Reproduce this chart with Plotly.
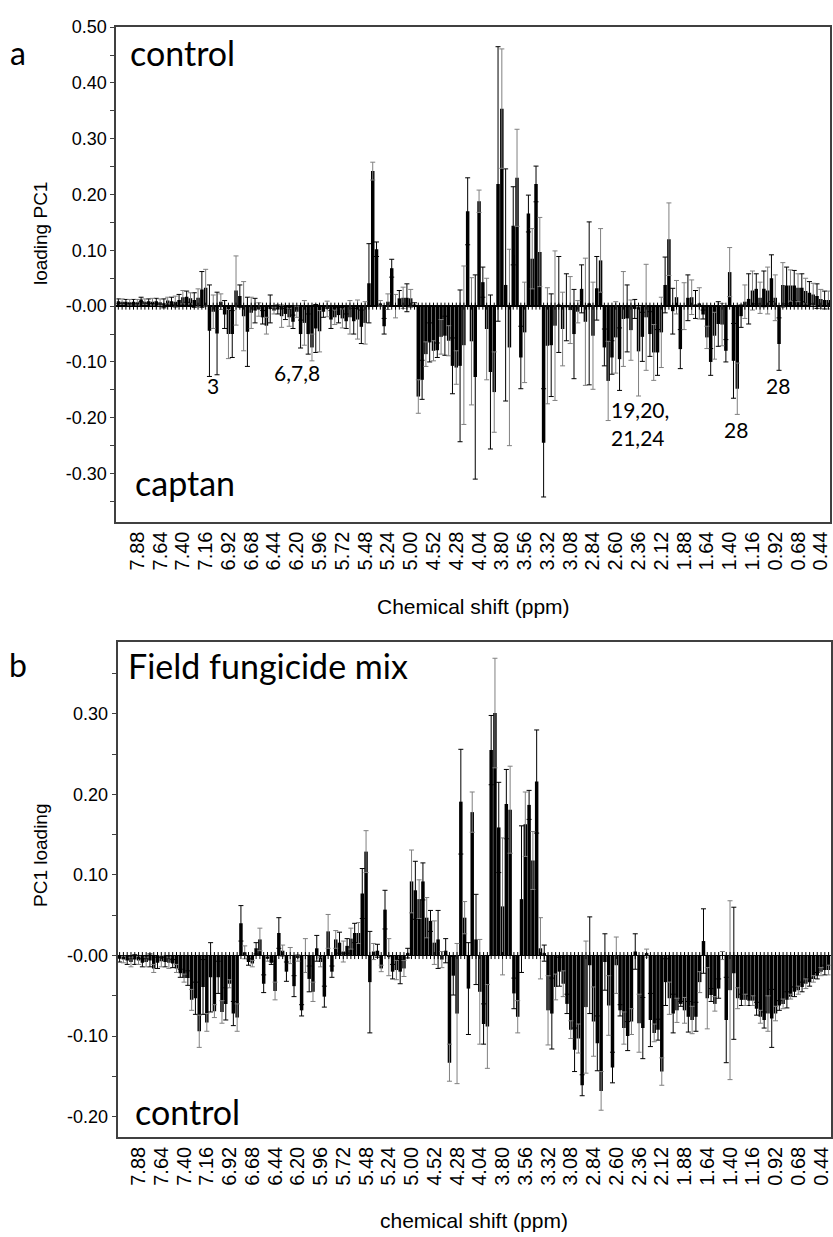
import plotly.graph_objects as go

W, H = 833, 1237

# ---------------- data ----------------
tick_labels = ["7.88", "7.64", "7.40", "7.16", "6.92", "6.68", "6.44", "6.20", "5.96",
               "5.72", "5.48", "5.24", "5.00", "4.52", "4.28", "4.04", "3.80", "3.56",
               "3.32", "3.08", "2.84", "2.60", "2.36", "2.12", "1.88", "1.64", "1.40",
               "1.16", "0.92", "0.68", "0.44"]
first_tick_bin = 5
bins_per_tick = 6

# panel a: captan vs control, PC1 loadings (mean) and CI half-widths
a_vals = [
    0.009, 0.008, 0.008, 0.007, 0.008, 0.007, 0.012, 0.008, 0.009, 0.008,
    0.009, 0.007, 0.005, 0.010, 0.009, 0.008, 0.011, 0.016, 0.017, 0.014,
    0.011, 0.015, 0.030, 0.033, -0.044, -0.010, -0.049, 0.008, -0.015, -0.050,
    -0.050, 0.028, 0.018, -0.018, -0.046, -0.012, -0.008, -0.006, -0.020, -0.035,
    -0.005, -0.008, -0.006, -0.018, -0.014, -0.020, -0.028, -0.010, -0.050, -0.030,
    -0.050, -0.074, -0.040, -0.045, -0.010, -0.005, -0.024, -0.020, -0.016, -0.022,
    -0.027, -0.020, -0.027, -0.024, -0.037, -0.030, 0.041, 0.242, 0.102, 0.005,
    -0.036, 0.008, 0.068, 0.000, 0.014, 0.015, 0.015, 0.014, 0.003, -0.162,
    -0.132, -0.086, -0.065, -0.080, -0.079, -0.055, -0.053, -0.062, -0.107, -0.110,
    -0.107, -0.070, 0.170, -0.063, -0.127, 0.188, 0.043, -0.041, -0.118, -0.154,
    0.219, 0.354, 0.038, -0.074, 0.144, 0.230, -0.092, -0.047, 0.166, 0.085,
    0.219, 0.097, -0.245, -0.071, -0.070, -0.035, 0.003, -0.041, -0.002, -0.007,
    -0.050, -0.010, 0.031, -0.028, 0.005, -0.053, 0.032, 0.082, -0.074, -0.134,
    -0.092, -0.056, -0.095, -0.023, -0.022, -0.043, -0.005, -0.081, -0.055, -0.020,
    -0.050, -0.083, -0.083, -0.047, 0.038, 0.120, -0.009, 0.016, -0.077, 0.000,
    0.015, 0.016, 0.003, 0.005, -0.015, -0.056, -0.100, -0.053, -0.032, -0.033,
    -0.080, 0.061, -0.098, -0.148, -0.018, 0.008, 0.013, 0.028, 0.031, 0.015,
    0.031, 0.028, 0.050, 0.015, -0.068, 0.038, 0.037, 0.037, 0.037, 0.033,
    0.033, 0.027, 0.024, 0.021, 0.018, 0.013, 0.011, 0.011]
a_errs = [
    0.004, 0.005, 0.004, 0.005, 0.004, 0.005, 0.004, 0.005, 0.004, 0.006,
    0.005, 0.006, 0.008, 0.006, 0.007, 0.010, 0.010, 0.012, 0.010, 0.010,
    0.013, 0.016, 0.032, 0.033, 0.082, 0.030, 0.074, 0.014, 0.025, 0.044,
    0.042, 0.062, 0.020, 0.062, 0.062, 0.028, 0.022, 0.012, 0.012, 0.015,
    0.025, 0.006, 0.008, 0.020, 0.010, 0.016, 0.012, 0.010, 0.025, 0.040,
    0.036, 0.024, 0.043, 0.037, 0.010, 0.014, 0.016, 0.013, 0.014, 0.017,
    0.013, 0.030, 0.023, 0.035, 0.030, 0.038, 0.071, 0.016, 0.013, 0.005,
    0.014, 0.014, 0.016, 0.021, 0.014, 0.019, 0.025, 0.016, 0.003, 0.030,
    0.035, 0.022, 0.035, 0.018, 0.013, 0.031, 0.035, 0.027, 0.050, 0.030,
    0.136, 0.142, 0.060, 0.114, 0.183, 0.020, 0.027, 0.091, 0.138, 0.072,
    0.246, 0.107, 0.208, 0.176, 0.070, 0.087, 0.056, 0.090, 0.033, 0.054,
    0.032, 0.062, 0.097, 0.104, 0.092, 0.134, 0.086, 0.066, 0.060, 0.060,
    0.080, 0.020, 0.043, 0.114, 0.146, 0.096, 0.057, 0.057, 0.033, 0.071,
    0.030, 0.064, 0.056, 0.085, 0.060, 0.054, 0.017, 0.080, 0.044, 0.095,
    0.040, 0.050, 0.041, 0.063, 0.050, 0.065, 0.041, 0.030, 0.035, 0.042,
    0.041, 0.031, 0.025, 0.028, 0.008, 0.020, 0.024, 0.042, 0.040, 0.038,
    0.020, 0.044, 0.067, 0.046, 0.020, 0.030, 0.045, 0.035, 0.027, 0.028,
    0.032, 0.042, 0.042, 0.041, 0.047, 0.040, 0.033, 0.028, 0.027, 0.025,
    0.025, 0.023, 0.020, 0.020, 0.022, 0.017, 0.016, 0.016]

# panel b: field fungicide mix vs control
b_vals = [
    -0.004, -0.005, -0.006, -0.008, -0.005, -0.006, -0.009, -0.008, -0.006, -0.016,
    -0.009, -0.007, -0.008, -0.009, -0.010, -0.016, -0.022, -0.028, -0.028, -0.055,
    -0.053, -0.094, -0.039, -0.083, -0.027, -0.069, -0.027, -0.070, -0.060, -0.035,
    -0.072, -0.077, 0.040, 0.004, -0.008, -0.010, 0.009, 0.020, -0.035, -0.004,
    -0.009, -0.044, 0.028, 0.006, -0.020, 0.000, -0.038, -0.003, -0.068, 0.000,
    -0.029, -0.045, 0.009, -0.008, -0.051, 0.030, -0.020, 0.020, 0.016, 0.005,
    0.012, 0.021, 0.028, 0.028, 0.077, 0.129, -0.033, 0.005, 0.006, -0.016,
    0.057, -0.002, -0.020, -0.018, -0.020, -0.016, 0.003, 0.092, 0.081, 0.070,
    0.092, 0.047, 0.043, 0.016, 0.020, -0.005, 0.006, -0.133, -0.025, -0.072,
    0.191, 0.047, -0.041, 0.178, 0.020, -0.045, -0.085, -0.088, 0.255, 0.301,
    0.159, 0.061, 0.188, 0.181, -0.047, -0.076, 0.070, 0.163, 0.187, 0.118,
    0.216, 0.009, 0.003, -0.068, -0.072, -0.039, -0.020, -0.035, -0.060, -0.092,
    -0.117, -0.103, -0.161, -0.064, -0.012, -0.082, -0.109, -0.168, -0.008, -0.062,
    -0.139, -0.012, -0.068, -0.090, -0.100, -0.082, 0.005, -0.084, -0.090, 0.003,
    -0.080, -0.096, -0.092, -0.144, -0.033, -0.053, -0.072, -0.068, -0.060, -0.068,
    -0.076, -0.080, -0.076, -0.033, 0.018, -0.053, -0.049, -0.060, -0.041, 0.000,
    -0.080, -0.043, -0.022, -0.053, -0.055, -0.055, -0.056, -0.056, -0.066, -0.076,
    -0.080, -0.072, -0.078, -0.072, -0.062, -0.060, -0.055, -0.051, -0.045, -0.043,
    -0.039, -0.035, -0.033, -0.029, -0.025, -0.020, -0.018, -0.018]
b_errs = [
    0.004, 0.004, 0.005, 0.006, 0.006, 0.005, 0.005, 0.006, 0.008, 0.005,
    0.007, 0.007, 0.006, 0.007, 0.005, 0.005, 0.005, 0.005, 0.009, 0.013,
    0.020, 0.020, 0.034, 0.011, 0.043, 0.008, 0.020, 0.014, 0.020, 0.005,
    0.015, 0.017, 0.022, 0.008, 0.004, 0.004, 0.007, 0.014, 0.011, 0.003,
    0.002, 0.011, 0.019, 0.007, 0.012, 0.010, 0.013, 0.004, 0.007, 0.021,
    0.016, 0.012, 0.016, 0.006, 0.013, 0.021, 0.007, 0.011, 0.013, 0.013,
    0.009, 0.013, 0.012, 0.013, 0.031, 0.026, 0.063, 0.010, 0.008, 0.004,
    0.024, 0.023, 0.009, 0.012, 0.015, 0.010, 0.006, 0.039, 0.036, 0.024,
    0.023, 0.025, 0.013, 0.027, 0.036, 0.010, 0.015, 0.023, 0.024, 0.087,
    0.065, 0.020, 0.057, 0.025, 0.056, 0.065, 0.025, 0.052, 0.043, 0.068,
    0.056, 0.085, 0.043, 0.054, 0.019, 0.020, 0.091, 0.040, 0.018, 0.036,
    0.064, 0.038, 0.010, 0.043, 0.044, 0.016, 0.018, 0.016, 0.012, 0.011,
    0.027, 0.018, 0.013, 0.082, 0.060, 0.043, 0.034, 0.024, 0.035, 0.037,
    0.019, 0.035, 0.007, 0.020, 0.018, 0.016, 0.022, 0.036, 0.038, 0.005,
    0.033, 0.011, 0.013, 0.017, 0.029, 0.020, 0.024, 0.015, 0.003, 0.016,
    0.019, 0.017, 0.018, 0.013, 0.040, 0.038, 0.008, 0.009, 0.012, 0.005,
    0.053, 0.111, 0.082, 0.013, 0.007, 0.007, 0.006, 0.006, 0.008, 0.008,
    0.010, 0.022, 0.036, 0.009, 0.006, 0.006, 0.010, 0.003, 0.006, 0.005,
    0.006, 0.006, 0.005, 0.004, 0.004, 0.005, 0.006, 0.006]

a_ytick_vals = [0.5, 0.4, 0.3, 0.2, 0.1, 0.0, -0.1, -0.2, -0.3]
a_ytick_text = ["0.50", "0.40", "0.30", "0.20", "0.10", "-0.00", "-0.10", "-0.20", "-0.30"]
b_ytick_vals = [0.3, 0.2, 0.1, 0.0, -0.1, -0.2]
b_ytick_text = ["0.30", "0.20", "0.10", "-0.00", "-0.10", "-0.20"]

# ---------------- helpers ----------------
def fx(p):
    return p / W


def fy(p):
    return 1 - p / H


tick_idx = [first_tick_bin + bins_per_tick * k for k in range(len(tick_labels))]

AX_COL = "#404040"
TICK_FONT = dict(family="Liberation Sans, Arial, sans-serif", size=18, color="black")
XTICK_FONT = dict(family="Liberation Sans, Arial, sans-serif", size=20, color="black")
LABEL_FONT = "Lato, Carlito, Calibri, sans-serif"

fig = go.Figure()


def add_panel(vals, errs, xa, ya):
    idx = list(range(len(vals)))
    for parity, ecol in [(0, "#000000"), (1, "#808080")]:
        sel = [i for i in idx if i % 2 == parity]
        fig.add_trace(go.Bar(
            x=sel, y=[vals[i] for i in sel], width=0.92,
            marker=dict(color="black", line=dict(width=0)),
            error_y=dict(type="data", array=[errs[i] for i in sel], visible=True,
                         color=ecol, thickness=1, width=2.5),
            xaxis=xa, yaxis=ya, showlegend=False, hoverinfo="skip"))
    # small bin ticks along the zero baseline
    fig.add_trace(go.Scatter(
        x=idx, y=[0] * len(idx), mode="markers",
        marker=dict(symbol="line-ns", size=5, line=dict(width=1, color="black")),
        xaxis=xa, yaxis=ya, showlegend=False, hoverinfo="skip"))


add_panel(a_vals, a_errs, "x", "y")
add_panel(b_vals, b_errs, "x2", "y2")

n = len(a_vals)
xcommon = dict(range=[-0.5, n - 0.5], tickmode="array", tickvals=tick_idx,
               ticktext=tick_labels, tickangle=-90, ticks="", showline=True,
               mirror=True, linecolor=AX_COL, linewidth=2, showgrid=False,
               zeroline=False, tickfont=XTICK_FONT)
ycommon = dict(tickmode="array", ticks="outside", ticklen=4, tickcolor=AX_COL,
               showline=True, mirror=True, linecolor=AX_COL, linewidth=2,
               showgrid=False, zeroline=True, zerolinecolor="black",
               zerolinewidth=1.5, tickfont=TICK_FONT,
               minor=dict(tickmode="linear", tick0=0, dtick=0.05, ticks="outside",
                          ticklen=4, tickcolor=AX_COL, showgrid=False))

fig.update_layout(
    width=W, height=H, margin=dict(l=0, r=0, t=0, b=0),
    paper_bgcolor="white", plot_bgcolor="white", barmode="overlay",
    xaxis=dict(domain=[fx(116.7), fx(832.3)], anchor="y", **xcommon),
    yaxis=dict(domain=[fy(515.7), fy(17.3)], anchor="x", range=[-0.386, 0.5],
               tickvals=a_ytick_vals, ticktext=a_ytick_text, **ycommon),
    xaxis2=dict(domain=[fx(118), fx(832.5)], anchor="y2", **xcommon),
    yaxis2=dict(domain=[fy(1136), fy(637.3)], anchor="x2", range=[-0.225, 0.389],
                tickvals=b_ytick_vals, ticktext=b_ytick_text, **ycommon),
)

ann = []


def add_text(text, x, y, size, family=LABEL_FONT, xanchor="center", angle=0):
    ann.append(dict(text=text, x=fx(x), y=fy(y), xref="paper", yref="paper",
                    showarrow=False, xanchor=xanchor, yanchor="middle",
                    textangle=angle, font=dict(family=family, size=size, color="black")))


ARIAL = "Liberation Sans, Arial, sans-serif"
add_text("a", 18, 43, 32)
add_text("b", 18, 660, 32)
add_text("control", 128, 43, 34, xanchor="left")
add_text("captan", 133, 476, 34, xanchor="left")
add_text("Field fungicide mix", 126, 661, 34, xanchor="left")
add_text("control", 133, 1110, 34, xanchor="left")
add_text("3", 214, 379, 21)
add_text("6,7,8", 298, 365, 21)
add_text("19,20,", 610, 403, 21, xanchor="left")
add_text("21,24", 610, 431, 21, xanchor="left")
add_text("28", 738, 423, 21)
add_text("28", 780, 379, 21)
add_text("Chemical shift (ppm)", 474.5, 601, 21, family=ARIAL)
add_text("chemical shift (ppm)", 475.5, 1220, 21, family=ARIAL)
add_text("loading PC1", 40, 225, 19, family=ARIAL, angle=-90)
add_text("PC1 loading", 40, 852, 19, family=ARIAL, angle=-90)

fig.update_layout(annotations=ann)

fig.write_html(
    "out.html",
    config={"displayModeBar": False, "staticPlot": True},
    post_script="document.body.style.margin='0';document.body.style.overflow='hidden';",
)
